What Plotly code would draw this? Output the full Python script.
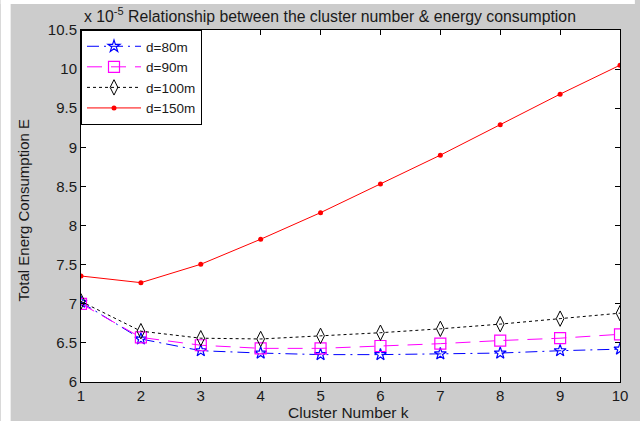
import plotly.graph_objects as go

# Cluster number k and total energy consumption (units of 1e-5)
k = [1, 2, 3, 4, 5, 6, 7, 8, 9, 10]
e_d80 = [7.02, 6.55, 6.40, 6.37, 6.35, 6.35, 6.36, 6.37, 6.40, 6.42]
e_d90 = [7.00, 6.57, 6.47, 6.43, 6.43, 6.46, 6.49, 6.53, 6.56, 6.61]
e_d100 = [7.03, 6.65, 6.56, 6.55, 6.59, 6.63, 6.68, 6.74, 6.81, 6.88]
e_d150 = [7.355, 7.27, 7.505, 7.825, 8.165, 8.53, 8.90, 9.29, 9.68, 10.05]

y_ticks = [6, 6.5, 7, 7.5, 8, 8.5, 9, 9.5, 10, 10.5]
y_tick_text = ["6", "6.5", "7", "7.5", "8", "8.5", "9", "9.5", "10", "10.5"]

FONT = "Liberation Sans, Arial, sans-serif"
TXT = "#1a1a1a"

fig = go.Figure()
fig.add_trace(go.Scatter(
    x=k, y=e_d80, name="d=80m", mode="lines+markers",
    line=dict(color="#0000ff", width=1, dash="12px,5px,2px,5px"),
    marker=dict(symbol="star-open", size=9, color="#0000ff", line=dict(width=1.2)),
))
fig.add_trace(go.Scatter(
    x=k, y=e_d90, name="d=90m", mode="lines+markers",
    line=dict(color="#ff00ff", width=1, dash="15px,9px"),
    marker=dict(symbol="square-open", size=11, color="#ff00ff", line=dict(width=1.2)),
))
fig.add_trace(go.Scatter(
    x=k, y=e_d100, name="d=100m", mode="lines+markers",
    line=dict(color="#000000", width=1, dash="3px,3px"),
    marker=dict(symbol="diamond-tall-open", size=11, color="#000000", line=dict(width=1)),
))
fig.add_trace(go.Scatter(
    x=k, y=e_d150, name="d=150m", mode="lines+markers",
    line=dict(color="#ff0000", width=1),
    marker=dict(symbol="circle", size=5, color="#ff0000"),
))

axis_common = dict(
    showline=True, linecolor="black", linewidth=1, mirror="ticks",
    ticks="inside", ticklen=5, tickcolor="black", tickwidth=1,
    showgrid=False, zeroline=False,
    tickfont=dict(family=FONT, size=15, color=TXT),
)

fig.update_layout(
    width=640, height=421,
    margin=dict(l=81, r=15, t=30, b=39),
    paper_bgcolor="#cccccc",
    plot_bgcolor="white",
    font=dict(family=FONT, size=15, color=TXT),
    xaxis=dict(range=[1, 10], tickvals=k, **axis_common),
    yaxis=dict(range=[6, 10.5], tickvals=y_ticks, ticktext=y_tick_text, **axis_common),
    legend=dict(
        x=0, y=1, xanchor="left", yanchor="top",
        bgcolor="white", bordercolor="black", borderwidth=1,
        font=dict(family=FONT, size=13.5, color=TXT),
        itemwidth=54, tracegroupgap=0,
    ),
    showlegend=True,
    shapes=[
        # white strips framing the figure area
        dict(type="rect", xref="paper", yref="paper",
             x0=-81 / 544, x1=-71 / 544, y0=-39 / 352, y1=382 / 352,
             fillcolor="white", line=dict(width=0), layer="above"),
        dict(type="rect", xref="paper", yref="paper",
             x0=-81 / 544, x1=559 / 544, y0=378 / 352, y1=382 / 352,
             fillcolor="white", line=dict(width=0), layer="above"),
    ],
    annotations=[
        dict(text="x 10<sup>-5</sup> Relationship between the cluster number &amp; energy consumption",
             xref="paper", yref="paper", x=(82 - 81) / 544, y=(382 - 15) / 352,
             xanchor="left", yanchor="middle", showarrow=False,
             font=dict(family=FONT, size=15.8, color=TXT)),
        dict(text="Total Energ Consumption E", textangle=-90,
             xref="paper", yref="paper", x=(22 - 81) / 544, y=(382 - 210) / 352,
             xanchor="center", yanchor="middle", showarrow=False,
             font=dict(family=FONT, size=15, color=TXT)),
        dict(text="Cluster Number k",
             xref="paper", yref="paper", x=(351 - 81) / 544, y=(382 - 412.5) / 352,
             xanchor="center", yanchor="middle", showarrow=False,
             font=dict(family=FONT, size=15.5, color=TXT)),
    ],
)

fig.write_html("out.html")
